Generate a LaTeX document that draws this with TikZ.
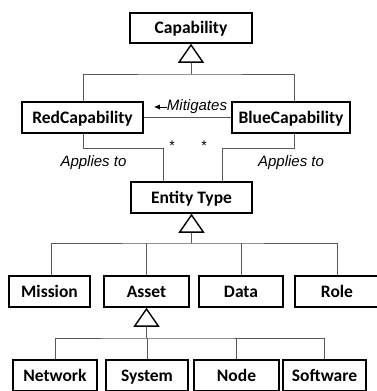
\documentclass[tikz,border=0pt]{standalone}
\usepackage{fontspec}
\setmainfont{Carlito}
\newfontfamily\arialf{Liberation Sans}
\usetikzlibrary{arrows.meta}
\begin{document}
\begin{tikzpicture}[x=1pt,y=-1pt,
  cls/.style={draw=black,line width=1.5pt,fill=white,inner sep=0pt,
    font=\fontsize{17.5}{17.5}\selectfont\bfseries,text height=11pt,text depth=0pt,minimum height=31pt},
  conn/.style={draw=black!65,line width=0.9pt},
  gen/.style={conn,-{Triangle[open,width=26pt,length=19pt,line width=1.4pt,color=black]}},
  lbl/.style={font=\arialf\itshape\fontsize{15}{15}\selectfont,inner sep=0pt},
  star/.style={font=\arialf\fontsize{14}{14}\selectfont,inner sep=0pt}]
\clip (0,0) rectangle (377,391);
\fill[white] (0,0) rectangle (377,391);
% classes
\node[cls,minimum width=122pt,minimum height=30pt] (cap) at (191,28) {Capability};
\node[cls,minimum width=121pt] (red) at (82.5,117.5) {RedCapability};
\node[cls,minimum width=118pt] (blue) at (291,117.5) {BlueCapability};
\node[cls,minimum width=121pt] (ent) at (191.5,197.5) {Entity Type};
\node[cls,minimum width=81pt] (mis) at (49.5,291.5) {Mission};
\node[cls,minimum width=85pt] (ast) at (146.5,291.5) {Asset};
\node[cls,minimum width=84pt] (dat) at (241,291.5) {Data};
\node[cls,minimum width=84pt] (rol) at (337,291.5) {Role};
\node[cls,minimum width=84pt] (net) at (55,375.5) {Network};
\node[cls,minimum width=82pt] (sys) at (147,375.5) {System};
\node[cls,minimum width=85pt] (nod) at (236.5,375.5) {Node};
\node[cls,minimum width=83pt] (sw) at (324.5,375.5) {Software};
% generalization: Capability
\coordinate (j1) at (191,74);
\draw[conn] (red.north -| 83,0) |- (j1) -| (blue.north -| 294,0);
\draw[gen] (j1) -- (cap.south);
% generalization: Entity Type
\coordinate (j2) at (191.5,243);
\draw[conn] (mis.north -| 51,0) |- (j2) -| (rol.north);
\draw[conn] (ast.north) -- (ast.north |- j2);
\draw[conn] (dat.north) -- (dat.north |- j2);
\draw[gen] (j2) -- (ent.south);
% generalization: Asset
\coordinate (j3) at (146.5,338);
\draw[conn] (net.north) |- (j3) -| (sw.north);
\draw[conn] (sys.north) -- (sys.north |- j3);
\draw[conn] (nod.north) -- (nod.north |- j3);
\draw[gen] (j3) -- (ast.south);
% Mitigates
\draw[conn] (blue.west) -- (red.east);
\node[lbl] (mit) at (197,107) {Mitigates};
\draw[black,line width=0.8pt,-{Latex[length=6pt,width=5pt]}] (mit.west) -- ++(-13,0) coordinate (mitend);
% Applies to
\coordinate (r1) at (83,148);
\coordinate (r2) at (163,148);
\draw[conn] (red.south -| 83,0) -- (r1) -- (r2) -- (r2 |- ent.north);
\coordinate (b1) at (294,148);
\coordinate (b2) at (222,148);
\draw[conn] (blue.south -| 294,0) -- (b1) -- (b2) -- (b2 |- ent.north);
\node[lbl] (ap1) at (93.5,163) {Applies to};
\node[lbl] (ap2) at (291,163) {Applies to};
\node[star] (s1) at (172,146) {*};
\node[star] (s2) at (204,146) {*};
\end{tikzpicture}
\end{document}
